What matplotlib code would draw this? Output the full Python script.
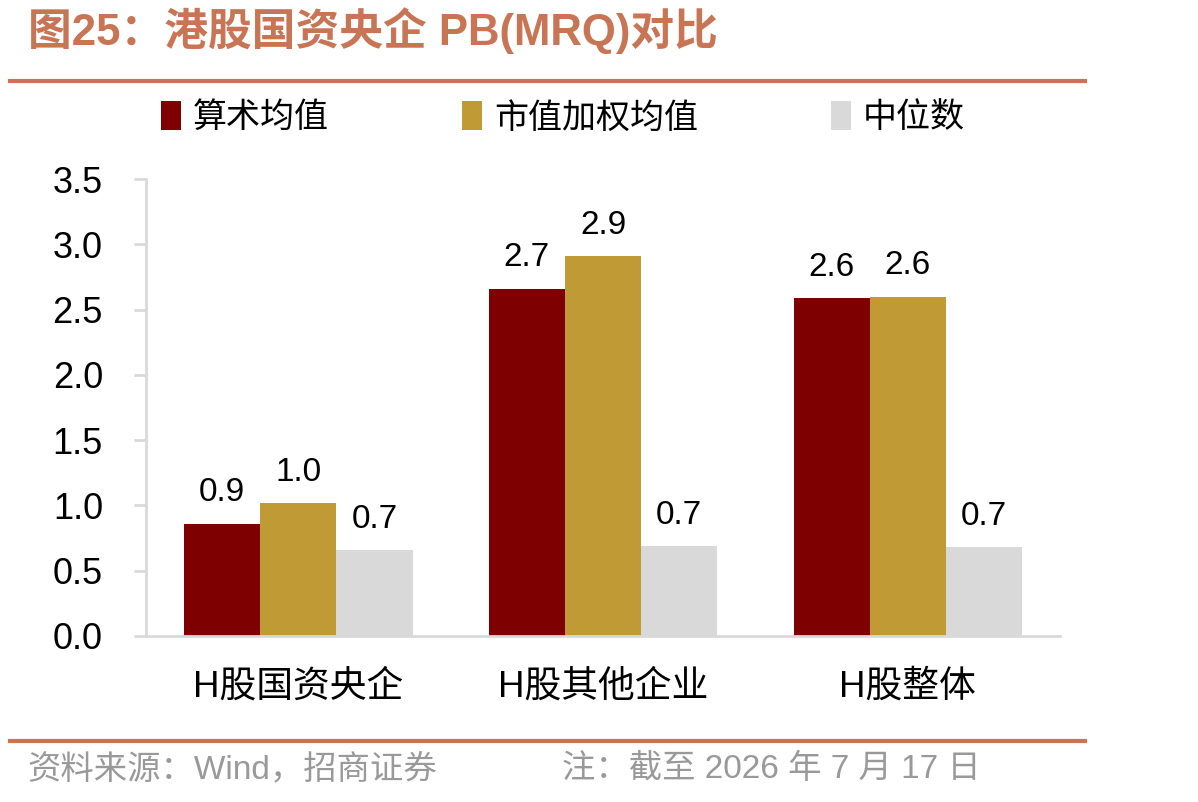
import numpy as np
import matplotlib.pyplot as plt
from matplotlib.patches import Patch

plt.rcParams['font.family'] = ['Liberation Sans', 'Noto Sans CJK SC']

categories = ['H股国资央企', 'H股其他企业', 'H股整体']
series_names = ['算术均值', '市值加权均值', '中位数']
arith_mean = [0.86, 2.66, 2.59]
cap_weighted = [1.02, 2.91, 2.60]
median = [0.66, 0.69, 0.68]
yticks = [0.0, 0.5, 1.0, 1.5, 2.0, 2.5, 3.0, 3.5]

colors = ['#7F0000', '#C09A35', '#D9D9D9']
accent = '#C87556'
grid_grey = '#D9D9D9'

fig = plt.figure(figsize=(11.98, 8.02), dpi=100)
ax = fig.add_axes([0.1219, 0.207, 0.763, 0.5698])

x = np.arange(len(categories))
w = 0.25
for i, (vals, c) in enumerate(zip([arith_mean, cap_weighted, median], colors)):
    bars = ax.bar(x + (i - 1) * w, vals, width=w, color=c, label=series_names[i])
    for b, v in zip(bars, vals):
        ax.annotate(f'{v:.1f}', (b.get_x() + b.get_width() / 2, v),
                    xytext=(0, 11), textcoords='offset points',
                    ha='center', va='bottom', fontsize=24, color='black')

ax.set_xlim(-0.5, 2.5)
ax.set_ylim(0, 3.5)
ax.set_yticks(yticks)
ax.set_yticklabels([f'{t:.1f}' for t in yticks])
ax.set_xticks(x)
ax.set_xticklabels(categories)

for s in ['top', 'right']:
    ax.spines[s].set_visible(False)
for s in ['left', 'bottom']:
    ax.spines[s].set_color(grid_grey)
    ax.spines[s].set_linewidth(2)
ax.tick_params(axis='y', length=9, width=2, color=grid_grey, pad=22, labelsize=26)
ax.tick_params(axis='x', length=0, pad=24, labelsize=26.5)

# legend
handles = [Patch(facecolor=c, edgecolor='none') for c in colors]
fig.legend(handles, series_names, loc='center left', bbox_to_anchor=(0.134, 0.853),
           ncol=3, frameon=False, fontsize=24.5, handlelength=0.6, handleheight=0.9,
           handletextpad=0.35, columnspacing=3.9, borderaxespad=0, borderpad=0)

# title and rules
fig.text(0.023, 0.962, '图25：港股国资央企 PB(MRQ)对比', fontsize=31.5, fontweight='bold',
         color=accent, ha='left', va='center')
fig.add_artist(plt.Line2D([0.008, 0.906], [0.899, 0.899], color=accent, lw=3))
fig.add_artist(plt.Line2D([0.008, 0.906], [0.076, 0.076], color=accent, lw=3))

# footer
fig.text(0.023, 0.040, '资料来源：Wind，招商证券', fontsize=24, color='#999999',
         ha='left', va='center')
fig.text(0.469, 0.040, '注：截至 2026 年 7 月 17 日', fontsize=24, color='#999999',
         ha='left', va='center')

fig.savefig('out.png', dpi=100)
